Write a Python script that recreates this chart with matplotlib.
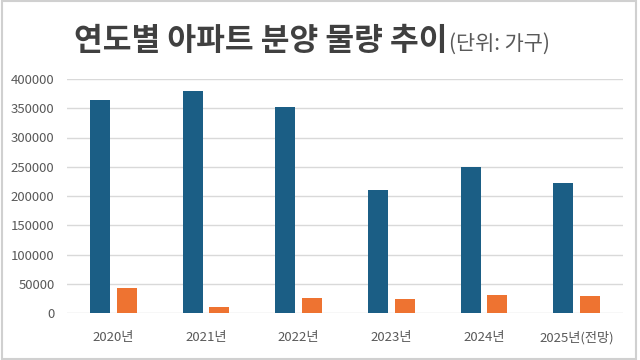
import matplotlib
matplotlib.use("Agg")
import matplotlib.pyplot as plt
import numpy as np
from matplotlib.patches import Rectangle

plt.rcParams['font.family'] = ['Noto Sans CJK KR', 'DejaVu Sans']

categories = ['2020년', '2021년', '2022년', '2023년', '2024년', '2025년(전망)']
series_a = [364000, 380000, 352000, 211000, 249000, 223000]
series_b = [42000, 10000, 26000, 24000, 30000, 28500]
yticks = [0, 50000, 100000, 150000, 200000, 250000, 300000, 350000, 400000]

fig = plt.figure(figsize=(6.4, 3.6), dpi=100)
fig.patch.set_facecolor('white')
ax = fig.add_axes([67/640, 1-313/360, (623-67)/640, (313-79)/360])

x = np.arange(len(categories))
w = 0.215
off = 0.143
ax.bar(x - off, series_a, width=w, color='#1B5E85', zorder=3)
ax.bar(x + off, series_b, width=w, color='#EE7331', zorder=3)

ax.set_xlim(-0.5, len(categories) - 0.5)
ax.set_ylim(0, 400000)
ax.set_yticks(yticks)
ax.set_yticklabels([str(v) for v in yticks])
ax.set_xticks(x)
ax.set_xticklabels(categories)
ax.grid(axis='y', color='#D9D9D9', linewidth=1, zorder=0)
for s in ax.spines.values():
    s.set_visible(False)
ax.tick_params(axis='both', length=0, colors='#595959', labelsize=9.5)
ax.tick_params(axis='x', pad=13)
ax.tick_params(axis='y', pad=9)

fig.text(447/640, 1-50/360, '연도별 아파트 분양 물량 추이', ha='right', va='baseline',
         fontsize=22.5, fontweight='bold', color='#404040')
fig.text(449/640, 1-50/360, '(단위: 가구)', ha='left', va='baseline',
         fontsize=15, color='#595959')

fig.add_artist(Rectangle((0.003, 0.003), 0.991, 0.994, transform=fig.transFigure,
                         fill=False, edgecolor='#D0D0D0', linewidth=1.5))

fig.savefig('out.png', dpi=100)
